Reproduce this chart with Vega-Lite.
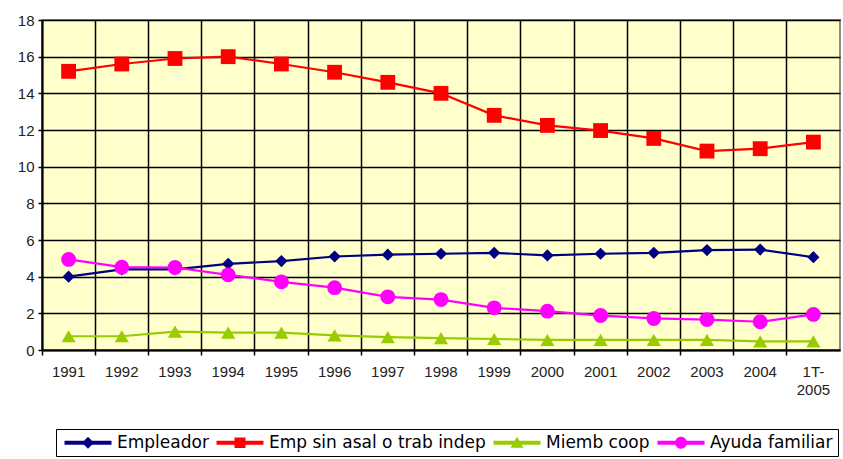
{
  "$schema": "https://vega.github.io/schema/vega-lite/v6.json",
  "width": 798,
  "height": 330,
  "autosize": {"type": "none"},
  "padding": {"left": 42, "top": 20, "right": 3, "bottom": 109},
  "background": "white",
  "config": {
    "view": {"fill": "#FFFFCC", "stroke": "#8c8c8c", "strokeWidth": 2},
    "font": "Liberation Sans"
  },
  "data": {
    "values": [
      {"year": "1991", "serie": "Empleador", "v": 4.0},
      {"year": "1992", "serie": "Empleador", "v": 4.4},
      {"year": "1993", "serie": "Empleador", "v": 4.4},
      {"year": "1994", "serie": "Empleador", "v": 4.7},
      {"year": "1995", "serie": "Empleador", "v": 4.85},
      {"year": "1996", "serie": "Empleador", "v": 5.1},
      {"year": "1997", "serie": "Empleador", "v": 5.2},
      {"year": "1998", "serie": "Empleador", "v": 5.25},
      {"year": "1999", "serie": "Empleador", "v": 5.3},
      {"year": "2000", "serie": "Empleador", "v": 5.16},
      {"year": "2001", "serie": "Empleador", "v": 5.25},
      {"year": "2002", "serie": "Empleador", "v": 5.3},
      {"year": "2003", "serie": "Empleador", "v": 5.45},
      {"year": "2004", "serie": "Empleador", "v": 5.48},
      {"year": "1T-2005", "serie": "Empleador", "v": 5.06},
      {"year": "1991", "serie": "Emp sin asal o trab indep", "v": 15.2},
      {"year": "1992", "serie": "Emp sin asal o trab indep", "v": 15.6},
      {"year": "1993", "serie": "Emp sin asal o trab indep", "v": 15.9},
      {"year": "1994", "serie": "Emp sin asal o trab indep", "v": 16.0},
      {"year": "1995", "serie": "Emp sin asal o trab indep", "v": 15.6},
      {"year": "1996", "serie": "Emp sin asal o trab indep", "v": 15.15},
      {"year": "1997", "serie": "Emp sin asal o trab indep", "v": 14.6},
      {"year": "1998", "serie": "Emp sin asal o trab indep", "v": 14.0},
      {"year": "1999", "serie": "Emp sin asal o trab indep", "v": 12.8},
      {"year": "2000", "serie": "Emp sin asal o trab indep", "v": 12.25},
      {"year": "2001", "serie": "Emp sin asal o trab indep", "v": 11.97},
      {"year": "2002", "serie": "Emp sin asal o trab indep", "v": 11.54},
      {"year": "2003", "serie": "Emp sin asal o trab indep", "v": 10.85},
      {"year": "2004", "serie": "Emp sin asal o trab indep", "v": 10.98},
      {"year": "1T-2005", "serie": "Emp sin asal o trab indep", "v": 11.34},
      {"year": "1991", "serie": "Miemb coop", "v": 0.75},
      {"year": "1992", "serie": "Miemb coop", "v": 0.75},
      {"year": "1993", "serie": "Miemb coop", "v": 1.0},
      {"year": "1994", "serie": "Miemb coop", "v": 0.95},
      {"year": "1995", "serie": "Miemb coop", "v": 0.95},
      {"year": "1996", "serie": "Miemb coop", "v": 0.8},
      {"year": "1997", "serie": "Miemb coop", "v": 0.7},
      {"year": "1998", "serie": "Miemb coop", "v": 0.65},
      {"year": "1999", "serie": "Miemb coop", "v": 0.6},
      {"year": "2000", "serie": "Miemb coop", "v": 0.55},
      {"year": "2001", "serie": "Miemb coop", "v": 0.55},
      {"year": "2002", "serie": "Miemb coop", "v": 0.55},
      {"year": "2003", "serie": "Miemb coop", "v": 0.55},
      {"year": "2004", "serie": "Miemb coop", "v": 0.47},
      {"year": "1T-2005", "serie": "Miemb coop", "v": 0.47},
      {"year": "1991", "serie": "Ayuda familiar", "v": 4.94},
      {"year": "1992", "serie": "Ayuda familiar", "v": 4.52},
      {"year": "1993", "serie": "Ayuda familiar", "v": 4.5},
      {"year": "1994", "serie": "Ayuda familiar", "v": 4.1},
      {"year": "1995", "serie": "Ayuda familiar", "v": 3.72},
      {"year": "1996", "serie": "Ayuda familiar", "v": 3.4},
      {"year": "1997", "serie": "Ayuda familiar", "v": 2.9},
      {"year": "1998", "serie": "Ayuda familiar", "v": 2.75},
      {"year": "1999", "serie": "Ayuda familiar", "v": 2.3},
      {"year": "2000", "serie": "Ayuda familiar", "v": 2.12},
      {"year": "2001", "serie": "Ayuda familiar", "v": 1.88},
      {"year": "2002", "serie": "Ayuda familiar", "v": 1.72},
      {"year": "2003", "serie": "Ayuda familiar", "v": 1.66},
      {"year": "2004", "serie": "Ayuda familiar", "v": 1.54},
      {"year": "1T-2005", "serie": "Ayuda familiar", "v": 1.94}
    ]
  },
  "encoding": {
    "x": {
      "field": "year",
      "type": "nominal",
      "sort": null,
      "scale": {"type": "band", "paddingInner": 0, "paddingOuter": 0},
      "axis": {
        "title": null,
        "bandPosition": 0,
        "labelAngle": 0,
        "labelFontSize": 15,
        "labelColor": "#222222",
        "labelPadding": 9,
        "labelLineHeight": 18,
        "labelBaseline": "top",
        "labelExpr": "datum.value == '1T-2005' ? ['1T-', '2005'] : datum.value",
        "grid": true,
        "gridColor": "#000000",
        "gridWidth": 1.5,
        "gridOpacity": 1,
        "domainColor": "#000000",
        "domainWidth": 2,
        "tickColor": "#000000",
        "tickWidth": 1.5,
        "tickSize": 5
      }
    },
    "y": {
      "field": "v",
      "type": "quantitative",
      "scale": {"domain": [0, 18], "nice": false},
      "axis": {
        "title": null,
        "values": [0, 2, 4, 6, 8, 10, 12, 14, 16, 18],
        "labelFontSize": 15,
        "labelColor": "#222222",
        "labelPadding": 4,
        "grid": true,
        "gridColor": "#000000",
        "gridWidth": 1.5,
        "gridOpacity": 1,
        "domainColor": "#000000",
        "domainWidth": 2,
        "tickColor": "#000000",
        "tickWidth": 1.5,
        "tickSize": 4
      }
    },
    "color": {
      "field": "serie",
      "type": "nominal",
      "scale": {
        "domain": ["Empleador", "Emp sin asal o trab indep", "Miemb coop", "Ayuda familiar"],
        "range": ["#000080", "#FF0000", "#99CC00", "#FF00FF"]
      },
      "legend": {
        "title": null,
        "orient": "none",
        "legendX": 14,
        "legendY": 409,
        "direction": "horizontal",
        "strokeColor": "#000000",
        "padding": 5,
        "labelFont": "DejaVu Sans",
        "labelFontSize": 17,
        "labelColor": "#000000",
        "labelLimit": 0,
        "symbolSize": 100,
        "symbolOpacity": 1,
        "symbolStrokeWidth": 0,
        "columnPadding": 4,
        "labelOffset": 39,
        "encode": {
          "symbols": {
            "update": {
              "shape": {"signal": "datum.value == 'Empleador' ? 'M-1,-0.4H8.4V0.4H-1Z M3.7,-1.2L4.9,0L3.7,1.2L2.5,0Z' : datum.value == 'Emp sin asal o trab indep' ? 'M-1,-0.4H8.4V0.4H-1Z M2.6,-1.05H4.8V1.05H2.6Z' : datum.value == 'Miemb coop' ? 'M-1,-0.4H8.4V0.4H-1Z M3.7,-1.2L5,1H2.4Z' : 'M-1,-0.4H8.4V0.4H-1Z M2.5,0A1.2,1.2 0 1,1 4.9,0A1.2,1.2 0 1,1 2.5,0Z'"},
              "fill": {"scale": "color", "field": "value"},
              "strokeWidth": {"value": 0}
            }
          }
        }
      }
    }
  },
  "layer": [
    {
      "mark": {"type": "line", "strokeWidth": 2.2}
    },
    {
      "transform": [{"filter": "datum.serie == 'Empleador'"}],
      "mark": {"type": "point", "filled": true, "opacity": 1, "shape": "diamond", "size": 150}
    },
    {
      "transform": [{"filter": "datum.serie == 'Emp sin asal o trab indep'"}],
      "mark": {"type": "point", "filled": true, "opacity": 1, "shape": "square", "size": 220}
    },
    {
      "transform": [{"filter": "datum.serie == 'Miemb coop'"}],
      "mark": {"type": "point", "filled": true, "opacity": 1, "shape": "triangle-up", "size": 200}
    },
    {
      "transform": [{"filter": "datum.serie == 'Ayuda familiar'"}],
      "mark": {"type": "point", "filled": true, "opacity": 1, "shape": "circle", "size": 220}
    }
  ]
}
